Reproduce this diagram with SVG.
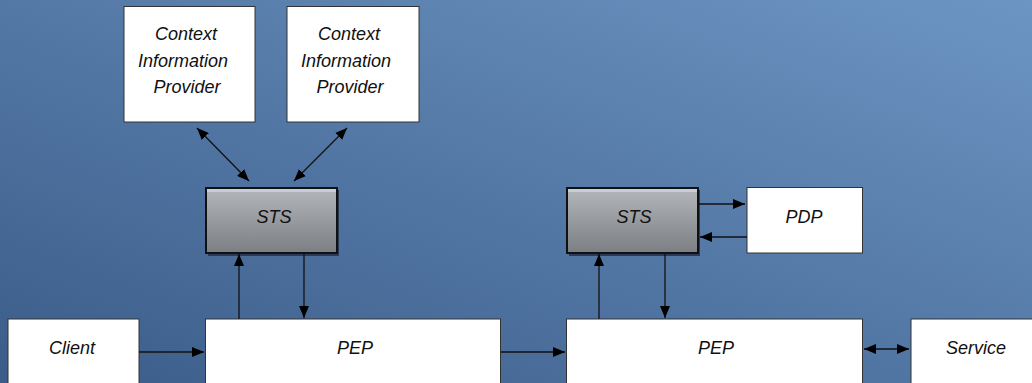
<svg xmlns="http://www.w3.org/2000/svg" width="1032" height="383" viewBox="0 0 1032 383">
<defs>
<linearGradient id="bg" x1="0" y1="1" x2="1" y2="0">
<stop offset="0" stop-color="#3b5c89"/>
<stop offset="1" stop-color="#6d95c3"/>
</linearGradient>
<linearGradient id="sts" x1="0" y1="0" x2="0" y2="1">
<stop offset="0" stop-color="#b3b6ba"/>
<stop offset="1" stop-color="#7b7e82"/>
</linearGradient>
<marker id="ah" viewBox="0 0 12 10" refX="12" refY="5" markerWidth="12" markerHeight="10" markerUnits="userSpaceOnUse" orient="auto-start-reverse">
<path d="M0,0 L12,5 L0,10 z" fill="#000"/>
</marker>
<style>
.box{fill:#fff;stroke:#333;stroke-width:1}
.stsbox{fill:url(#sts);stroke:#111;stroke-width:2}
.shadow{fill:#2b3a58}
.t{font-family:"Liberation Sans",Arial,sans-serif;font-style:italic;font-size:18px;fill:#111;text-anchor:middle}
.c{stroke:#111;stroke-width:1.3;fill:none}
.one{marker-end:url(#ah)}
.two{marker-start:url(#ah);marker-end:url(#ah)}
</style>
</defs>
<rect x="0" y="0" width="1032" height="383" fill="url(#bg)"/>

<g id="cip1">
<rect class="box" x="124" y="6.5" width="131" height="115.5"/>
<text class="t" x="186" y="40">Context</text>
<text class="t" x="183" y="67">Information</text>
<text class="t" x="187" y="93">Provider</text>
</g>
<g id="cip2">
<rect class="box" x="287" y="6.5" width="132" height="115.5"/>
<text class="t" x="349" y="40">Context</text>
<text class="t" x="346" y="67">Information</text>
<text class="t" x="350" y="93">Provider</text>
</g>
<g id="sts1">
<rect class="shadow" x="208" y="190" width="131" height="66"/>
<rect class="stsbox" x="206" y="188" width="131" height="65"/>
<rect x="207" y="189" width="129" height="3" fill="#c7ced8"/>
<text class="t" x="274" y="223">STS</text>
</g>
<g id="sts2">
<rect class="shadow" x="569" y="190" width="131" height="66"/>
<rect class="stsbox" x="567" y="188" width="131" height="65"/>
<rect x="568" y="189" width="129" height="3" fill="#c7ced8"/>
<text class="t" x="634" y="223">STS</text>
</g>
<g id="pdp">
<rect class="box" x="747" y="187.5" width="115.5" height="65.5"/>
<text class="t" x="804" y="223">PDP</text>
</g>
<g id="client">
<rect class="box" x="8" y="319" width="131" height="70"/>
<text class="t" x="72" y="354">Client</text>
</g>
<g id="pep1">
<rect class="box" x="205.5" y="319" width="295" height="70"/>
<text class="t" x="355" y="354">PEP</text>
</g>
<g id="pep2">
<rect class="box" x="566.5" y="319" width="296" height="70"/>
<text class="t" x="716" y="354">PEP</text>
</g>
<g id="service">
<rect class="box" x="911" y="319" width="125" height="70"/>
<text class="t" x="976" y="354">Service</text>
</g>

<g id="connectors">
<line class="c two" x1="197" y1="128" x2="249" y2="181"/>
<line class="c two" x1="347" y1="128" x2="294" y2="181"/>
<line class="c one" x1="239" y1="319" x2="239" y2="254"/>
<line class="c one" x1="304" y1="254" x2="304" y2="318"/>
<line class="c one" x1="599" y1="319" x2="599" y2="254"/>
<line class="c one" x1="665" y1="254" x2="665" y2="318"/>
<line class="c one" x1="699" y1="204" x2="745" y2="204"/>
<line class="c one" x1="747" y1="237" x2="700" y2="237"/>
<line class="c one" x1="139" y1="352" x2="204" y2="352"/>
<line class="c one" x1="501" y1="352" x2="565" y2="352"/>
<line class="c two" x1="864" y1="349" x2="909" y2="349"/>
</g>
</svg>
